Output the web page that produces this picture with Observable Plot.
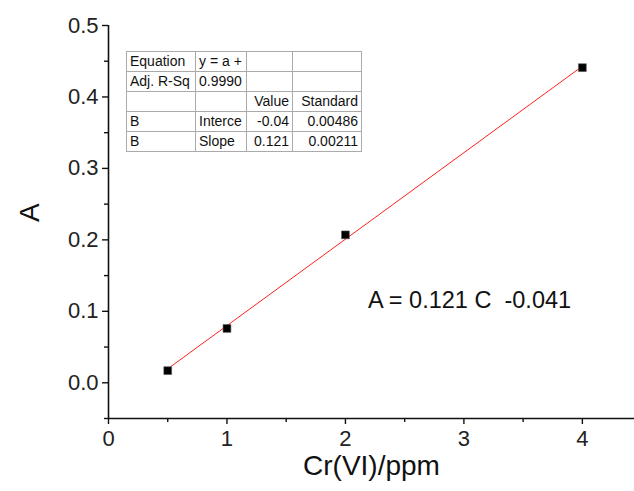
<!DOCTYPE html>
<html>
<head>
<meta charset="utf-8">
<script src="https://cdn.jsdelivr.net/npm/d3@7"></script>
<script src="https://cdn.jsdelivr.net/npm/@observablehq/plot@0.6"></script>
<style>
  html, body { margin: 0; padding: 0; background: #fff; }
  #wrap { position: relative; width: 634px; height: 491px; overflow: hidden; font-family: "Liberation Sans", Arial, sans-serif; }
  #tbl { position: absolute; left: 126px; top: 51px; border-collapse: collapse; table-layout: fixed; border: 1.5px solid #444; font-size: 14px; color: #111; background: #fff; }
  #tbl td { border: 1px solid #aaa; height: 19.4px; padding: 0 3px; white-space: nowrap; overflow: hidden; line-height: 19px; box-sizing: border-box; }
</style>
</head>
<body>
<div id="wrap"></div>
<script>
const conc = [0.5, 1, 2, 4];
const absorb = [0.017, 0.076, 0.207, 0.441];
const xTicks = [0, 1, 2, 3, 4];
const xMinor = [0.5, 1.5, 2.5, 3.5];
const yTicks = [0, 0.1, 0.2, 0.3, 0.4, 0.5];
const yMinor = [-0.05, 0.05, 0.15, 0.25, 0.35, 0.45];
const fitIntercept = -0.041;
const fitSlope = 0.121;
const equationText = "A = 0.121 C  -0.041";
const tableRows = [
  ["Equation", "y = a +", "", ""],
  ["Adj. R-Sq", "0.9990", "", ""],
  ["", "", "Value", "Standard"],
  ["B", "Interce", "-0.04", "0.00486"],
  ["B", "Slope", "0.121", "0.00211"]
];
const colWidths = [69, 51, 46, 69];
const colAlign = ["left", "left", "right", "right"];

const data = conc.map((c, i) => ({c, a: absorb[i]}));
const fitX = [conc[0], conc[conc.length - 1]];
const fit = fitX.map(c => ({c, a: fitIntercept + fitSlope * c}));

const chart = Plot.plot({
  width: 634,
  height: 491,
  marginLeft: 108,
  marginRight: 0,
  marginTop: 25,
  marginBottom: 73,
  style: {fontFamily: "'Liberation Sans', Arial, sans-serif", fontSize: "22px", color: "#111", background: "#fff"},
  x: {domain: [0, 4.44]},
  y: {domain: [-0.05, 0.5]},
  marks: [
    Plot.axisX({ticks: xTicks, tickSize: 6, tickPadding: 6, tickFormat: d3.format("d"), label: null, fontSize: 22, stroke: "#111", fill: "#222", strokeWidth: 1.4}),
    Plot.axisX({ticks: xMinor, tickSize: 4, tickFormat: () => "", label: null, stroke: "#111", strokeWidth: 1.4}),
    Plot.axisY({ticks: yTicks, tickSize: 6, tickPadding: 4, tickFormat: d3.format(".1f"), label: null, fontSize: 22, stroke: "#111", fill: "#222", strokeWidth: 1.4}),
    Plot.axisY({ticks: yMinor, tickSize: 4, tickFormat: () => "", label: null, stroke: "#111", strokeWidth: 1.4}),
    Plot.ruleX([0], {stroke: "#111", strokeWidth: 1.6}),
    Plot.ruleY([-0.05], {stroke: "#111", strokeWidth: 1.6}),
    Plot.line(fit, {x: "c", y: "a", stroke: "#ff2020", strokeWidth: 1}),
    Plot.dot(data, {x: "c", y: "a", symbol: "square", r: 4.4, fill: "#000", stroke: "#555", strokeWidth: 0.6}),
    Plot.text([equationText], {x: 2.19, y: 0.115, text: d => d, textAnchor: "start", fontSize: 23.5, fill: "#111"}),
    Plot.text(["Cr(VI)/ppm"], {frameAnchor: "bottom", dy: 56, text: d => d, fontSize: 28, fill: "#111"}),
    Plot.text(["A"], {frameAnchor: "left", dx: -78, rotate: -90, text: d => d, fontSize: 28, fill: "#111"})
  ]
});

const wrap = document.getElementById("wrap");
wrap.appendChild(chart);

const tbl = document.createElement("table");
tbl.id = "tbl";
for (const row of tableRows) {
  const tr = document.createElement("tr");
  row.forEach((cell, j) => {
    const td = document.createElement("td");
    td.textContent = cell;
    td.style.width = colWidths[j] + "px";
    td.style.textAlign = colAlign[j];
    tr.appendChild(td);
  });
  tbl.appendChild(tr);
}
wrap.appendChild(tbl);
</script>
</body>
</html>
